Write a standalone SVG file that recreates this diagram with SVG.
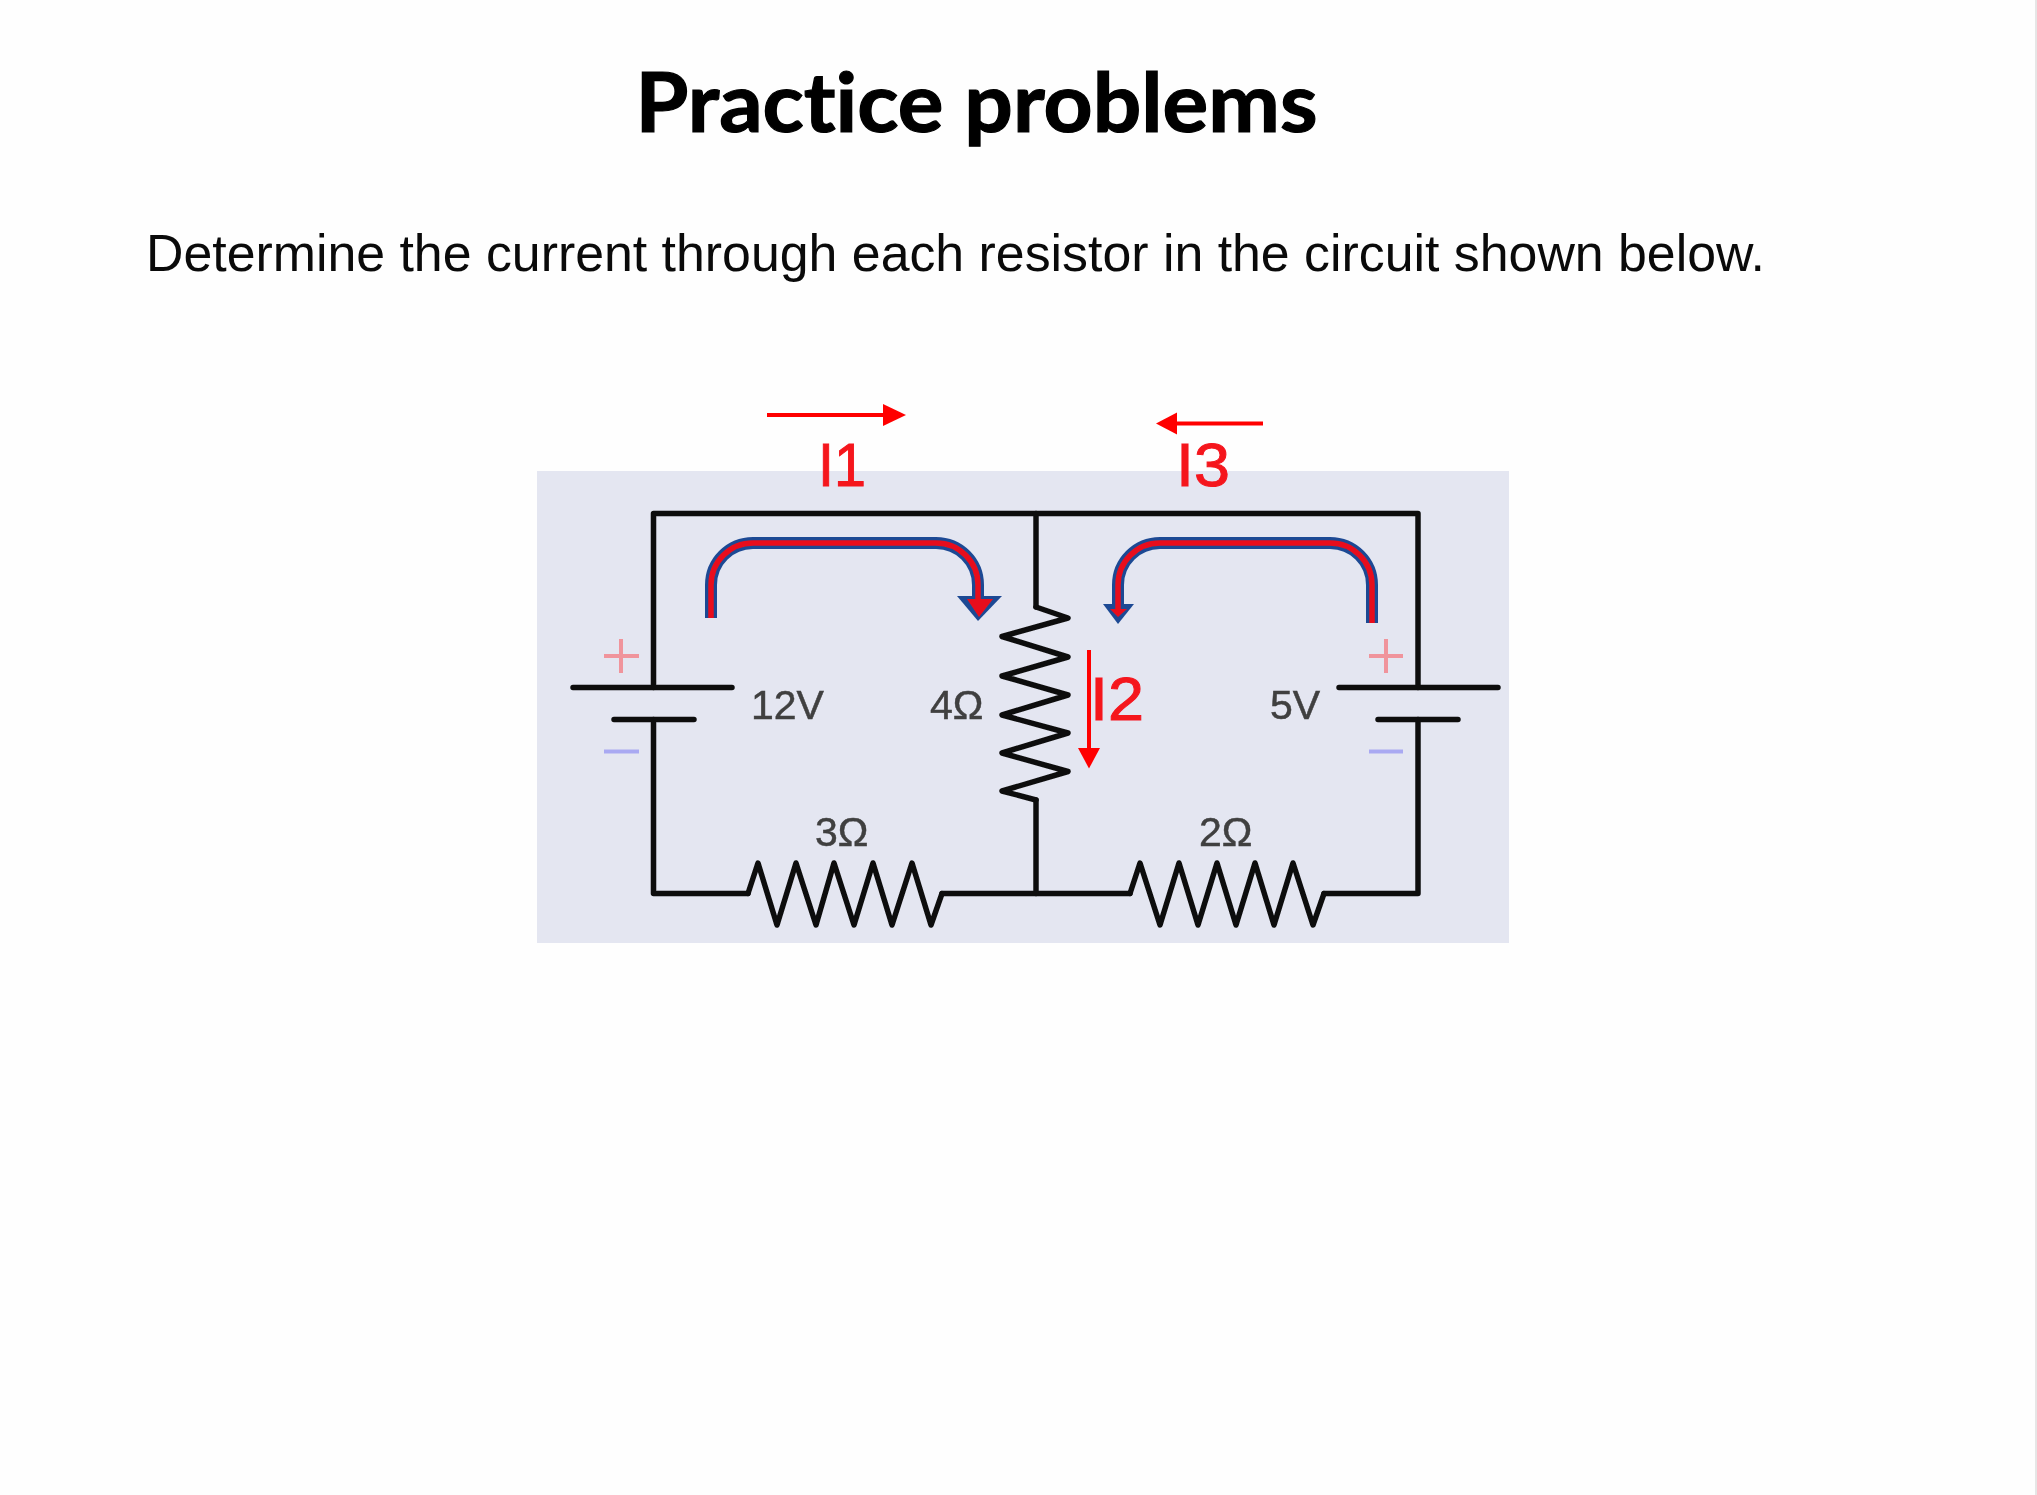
<svg xmlns="http://www.w3.org/2000/svg" width="2037" height="1495" viewBox="0 0 2037 1495">
<style>
.w{fill:none;stroke:#111;stroke-width:5.500;stroke-linejoin:round;stroke-linecap:round}
.v{font-family:"Liberation Sans",Arial,sans-serif;font-size:41px;fill:#3f3f3f;stroke:#3f3f3f;stroke-width:.5}
.i{font-family:"Liberation Sans",Arial,sans-serif;font-size:62px;fill:#f5141e;stroke:#f5141e;stroke-width:1}
.r{fill:none;stroke:#ff0000;stroke-width:4}
.rf{fill:#ff0000}
.lb{fill:none;stroke:#1f4a94;stroke-width:12}
.lr{fill:none;stroke:#e8101c;stroke-width:5.500}
.p{fill:none;stroke:#f0949c;stroke-width:4}
.m{fill:none;stroke:#a9a9f2;stroke-width:4}
</style>
<defs><filter id="soft" x="-5%" y="-5%" width="110%" height="110%"><feGaussianBlur stdDeviation="0.7"/></filter></defs>
<rect width="2037" height="1495" fill="#fefefe"/>
<line x1="2036" y1="0" x2="2036" y2="1495" stroke="#e6e6e6" stroke-width="2"/>
<g id="title"><text x="976.500" y="132" text-anchor="middle" textLength="682" lengthAdjust="spacingAndGlyphs" font-family="Lato,'Open Sans',sans-serif" font-weight="700" font-size="82" fill="#000" stroke="#000" stroke-width="1.200" style="font-variant-ligatures:none">Practice problems</text></g>
<g id="prompt"><text x="146" y="271" textLength="1619" lengthAdjust="spacingAndGlyphs" font-family="'Liberation Sans',Arial,sans-serif" font-size="52" fill="#0a0a0a">Determine the current through each resistor in the circuit shown below.</text></g>
<g id="panel"><rect x="537" y="471" width="972" height="472" fill="#e4e6f1"/></g>
<g filter="url(#soft)">
<g id="connectors">
<path class="w" d="M653.500 687.500V513.500H1418V687.500"/>
<path class="w" d="M653.500 719.500V893.500H748"/>
<path class="w" d="M942 893.500H1130"/>
<path class="w" d="M1324 893.500H1418V719.500"/>
<path class="w" d="M1036 513.500V607"/>
<path class="w" d="M1036 800V893.500"/>
</g>
<g id="battery-12v">
<path class="w" d="M573 687.500H732M614 719.500H694"/>
<path class="p" d="M604 656H639M621 639V673"/>
<path class="m" d="M604 751.500H639"/>
<text class="v" x="751" y="719">12V</text>
</g>
<g id="battery-5v">
<path class="w" d="M1339 687.500H1498M1378 719.500H1458"/>
<path class="p" d="M1369 656H1403M1386 639V673"/>
<path class="m" d="M1369 751.500H1403"/>
<text class="v" x="1270" y="719">5V</text>
</g>
<g id="resistor-4">
<path class="w" d="M1036 607L1068 618L1002 636.500L1068 657L1002 676L1068 695L1002 715L1068 733L1002 753L1068 771.500L1002 791L1036 800"/>
<text class="v" x="930" y="719">4Ω</text>
</g>
<g id="resistor-3">
<path class="w" d="M748 893.500L758 863L777 925L796 863L816 925L834 863L854 925L873 863L892 925L912 863L931 925L942 893.500"/>
<text class="v" x="815" y="846">3Ω</text>
</g>
<g id="resistor-2">
<path class="w" d="M1130 893.500L1140 863L1160 925L1179 863L1198 925L1217 863L1236 925L1255 863L1274 925L1293 863L1313 925L1324 893.500"/>
<text class="v" x="1199" y="846">2Ω</text>
</g>
<g id="loop-1">
<path class="lb" d="M711 618V585A42 42 0 0 1 753 543H936A42 42 0 0 1 978 585V600"/>
<path d="M957 596H1002L978 621Z" fill="#1f4a94"/>
<path class="lr" d="M711 618V585A42 42 0 0 1 753 543H936A42 42 0 0 1 978 585V600"/>
<path d="M967 599H993L979 617Z" fill="#e8101c"/>
</g>
<g id="loop-2">
<path class="lb" d="M1372 623V585A42 42 0 0 0 1330 543H1160A42 42 0 0 0 1118 585V606"/>
<path d="M1103 604H1134L1118 624Z" fill="#1f4a94"/>
<path class="lr" d="M1372 623V585A42 42 0 0 0 1330 543H1160A42 42 0 0 0 1118 585V610"/>
<path d="M1110 609H1127L1118 617Z" fill="#e8101c"/>
</g>
<g id="current-i1">
<path class="r" d="M767 415H885"/><path class="rf" d="M883 404L906 415L883 426Z"/>
<text class="i" x="818" y="486" textLength="48" lengthAdjust="spacingAndGlyphs">I1</text>
</g>
<g id="current-i3">
<path class="r" d="M1263 423.500H1175"/><path class="rf" d="M1177 412.500L1156 423.500L1177 434.500Z"/>
<text class="i" x="1176" y="486" textLength="54" lengthAdjust="spacingAndGlyphs">I3</text>
</g>
<g id="current-i2">
<path class="r" d="M1089 650V750"/><path class="rf" d="M1078 748H1100L1089 768.500Z"/>
<text class="i" x="1090" y="720" textLength="54" lengthAdjust="spacingAndGlyphs">I2</text>
</g>
</g>
</svg>
